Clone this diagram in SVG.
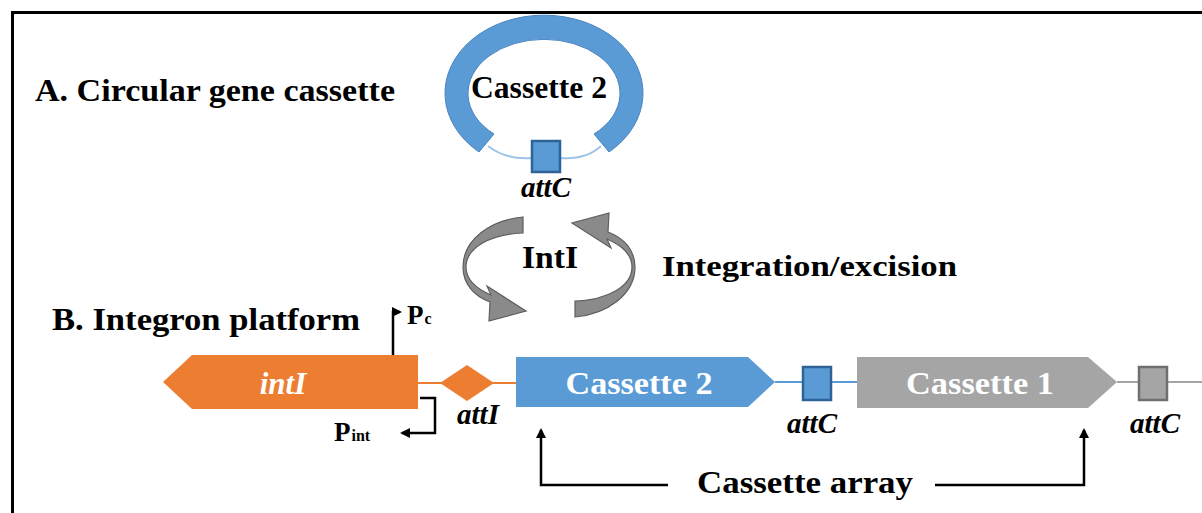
<svg xmlns="http://www.w3.org/2000/svg" width="1202" height="513" viewBox="0 0 1202 513">
<style>
.t{font-family:"Liberation Serif","Times New Roman",serif;font-weight:bold;fill:#000}
.w{fill:#fff}
.i{font-style:italic}
.ln{fill:none;stroke:#000;stroke-width:2.5}
.arr{fill:#8a8a8a;stroke:#5e5e5e;stroke-width:1.2}
</style>
<defs>
<marker id="ah" markerWidth="10" markerHeight="10" refX="8" refY="5" orient="auto" markerUnits="userSpaceOnUse">
<path d="M0,0 L10,5 L0,10 Z" fill="#000"/>
</marker>
</defs>
<rect width="1202" height="513" fill="#fff"/>
<path d="M12.5,513 V12.5 H1202" fill="none" stroke="#000" stroke-width="3"/>

<g id="titleA"><text class="t" x="35" y="101" font-size="31" textLength="360" lengthAdjust="spacingAndGlyphs">A. Circular gene cassette</text></g>

<g id="circular-cassette">
<path d="M488,146 Q506,160 532,158" fill="none" stroke="#9dc3e6" stroke-width="1.8"/>
<path d="M560,158 Q586,160 601,146" fill="none" stroke="#9dc3e6" stroke-width="1.8"/>
<path d="M479,152 A99,78 0 1 1 609,152 L594,134 A76,54 0 1 0 494,134 Z" fill="#5b9bd5" stroke="#4a84bf" stroke-width="1"/>
<rect x="532" y="141" width="28" height="31" fill="#5b9bd5" stroke="#2e6399" stroke-width="2.5"/>
<text class="t" x="539" y="98" font-size="31" text-anchor="middle" textLength="136" lengthAdjust="spacingAndGlyphs">Cassette 2</text>
<text class="t i" x="546" y="197" font-size="29" text-anchor="middle">attC</text>
</g>

<g id="intI-arrows">
<path class="arr" d="M523,217 C490,220 463,240 463,267 C463,284 474,296 490,302 L489,321 L526,311 L487,286 L491,295 C477,289 466,280 466,267 C466,248 490,234 523,233 Z"/>
<path class="arr" transform="rotate(180 549 267)" d="M523,217 C490,220 463,240 463,267 C463,284 474,296 490,302 L489,321 L526,311 L487,286 L491,295 C477,289 466,280 466,267 C466,248 490,234 523,233 Z"/>
<text class="t" x="550" y="268" font-size="31" text-anchor="middle" textLength="56" lengthAdjust="spacingAndGlyphs">IntI</text>
</g>
<g id="label-integration"><text class="t" x="662" y="276" font-size="30" textLength="295" lengthAdjust="spacingAndGlyphs">Integration/excision</text></g>

<g id="titleB"><text class="t" x="52" y="330" font-size="31" textLength="308" lengthAdjust="spacingAndGlyphs">B. Integron platform</text></g>

<g id="connectors">
<line x1="418" y1="383" x2="517" y2="383" stroke="#ed7d31" stroke-width="2"/>
<line x1="775" y1="382" x2="858" y2="382" stroke="#5b9bd5" stroke-width="2"/>
<line x1="1117" y1="382" x2="1202" y2="382" stroke="#a5a5a5" stroke-width="2"/>
<path class="ln" d="M393,355 V312 H400" marker-end="url(#ah)"/>
<path class="ln" d="M420,398 H435 V433 H402" marker-end="url(#ah)"/>
<path class="ln" d="M668,485 H541 V430" marker-end="url(#ah)"/>
<path class="ln" d="M935,485 H1084 V430" marker-end="url(#ah)"/>
</g>

<g id="intI">
<path d="M163,382 L192,355 L418,355 L418,409 L192,409 Z" fill="#ed7d31"/>
<text class="t w i" x="283" y="394" font-size="31" text-anchor="middle">intI</text>
</g>
<g id="Pc"><text class="t" x="407" y="324" font-size="27">P<tspan font-size="16" dx="1">c</tspan></text></g>
<g id="Pint"><text class="t" x="334" y="441" font-size="27">P<tspan font-size="16" dx="1">int</tspan></text></g>

<g id="attI">
<path d="M440,383 L467,365 L494,383 L467,401 Z" fill="#ed7d31"/>
<text class="t i" x="478" y="424" font-size="29" text-anchor="middle">attI</text>
</g>

<g id="cassette2">
<path d="M516,357 L748,357 L775,382 L748,407 L516,407 Z" fill="#5b9bd5"/>
<text class="t w" x="639" y="394" font-size="31" text-anchor="middle" textLength="147" lengthAdjust="spacingAndGlyphs">Cassette 2</text>
</g>
<g id="attC1">
<rect x="803" y="367" width="28" height="33" fill="#5b9bd5" stroke="#2e6399" stroke-width="2.5"/>
<text class="t i" x="812" y="433" font-size="29" text-anchor="middle">attC</text>
</g>

<g id="cassette1">
<path d="M857,357 L1088,357 L1117,382 L1088,408 L857,408 Z" fill="#a5a5a5"/>
<text class="t w" x="980" y="394" font-size="31" text-anchor="middle" textLength="148" lengthAdjust="spacingAndGlyphs">Cassette 1</text>
</g>
<g id="attC2">
<rect x="1139" y="367" width="28" height="33" fill="#a5a5a5" stroke="#6f6f6f" stroke-width="2.5"/>
<text class="t i" x="1155" y="433" font-size="29" text-anchor="middle">attC</text>
</g>

<g id="label-array"><text class="t" x="805" y="493" font-size="31" text-anchor="middle" textLength="216" lengthAdjust="spacingAndGlyphs">Cassette array</text></g>
</svg>
